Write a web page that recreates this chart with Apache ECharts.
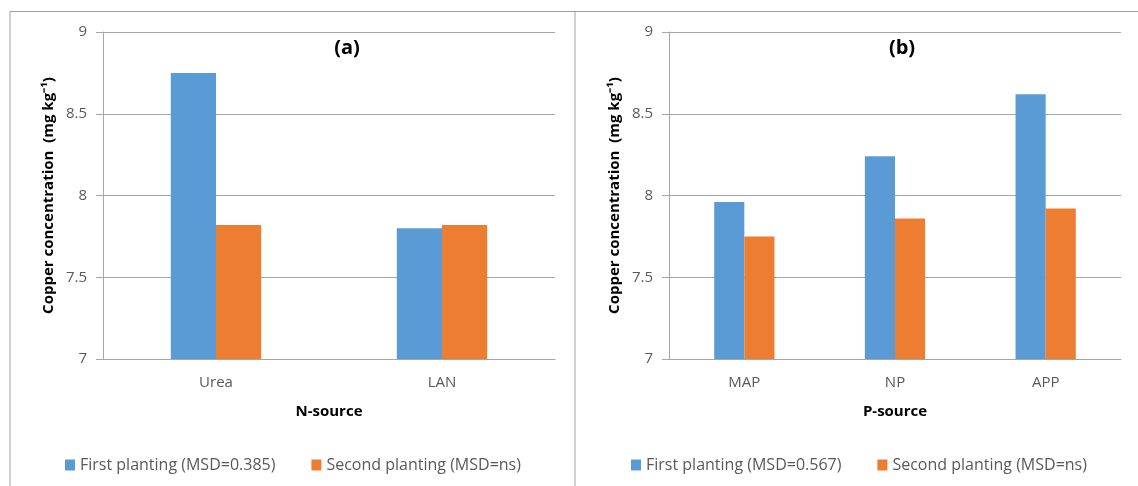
<!DOCTYPE html>
<html>
<head>
<meta charset="utf-8">
<script src="https://cdn.jsdelivr.net/npm/echarts@6/dist/echarts.min.js"></script>
<style>
html,body{margin:0;padding:0;background:#fff;}
#chart{width:1138px;height:486px;}
</style>
</head>
<body>
<div id="chart"></div>
<script>
// ---- data ----
const nCategories = ['Urea', 'LAN'];
const nFirst = [8.75, 7.80];
const nSecond = [7.82, 7.82];
const pCategories = ['MAP', 'NP', 'APP'];
const pFirst = [7.96, 8.24, 8.62];
const pSecond = [7.75, 7.86, 7.92];
const yTicks = [7, 7.5, 8, 8.5, 9];
const nFirstName = 'First planting (MSD=0.385)';
const nSecondName = 'Second planting (MSD=ns)';
const pFirstName = 'First planting (MSD=0.567)';
const pSecondName = 'Second planting (MSD=ns) ';
const yName = 'Copper concentration  (mg kg\u207B\u00B9)';

const BLUE = '#5B9BD5', ORANGE = '#ED7D31', TXT = '#595959', GRID = '#A6A6A6';
const FONT = 'Open Sans';

const chart = echarts.init(document.getElementById('chart'), null, {renderer: 'canvas'});

function yAxis(gridIndex) {
  return {
    type: 'value', gridIndex: gridIndex,
    min: yTicks[0], max: yTicks[yTicks.length - 1], interval: 0.5,
    name: yName, nameLocation: 'middle', nameGap: 47,
    nameTextStyle: {fontFamily: FONT, fontWeight: 'bold', fontSize: 15, color: '#000'},
    axisLine: {show: true, lineStyle: {color: GRID, width: 1}},
    axisTick: {show: true, length: 7, lineStyle: {color: GRID}},
    axisLabel: {fontFamily: FONT, fontSize: 15, color: TXT, margin: 16,
      formatter: v => String(v)},
    splitLine: {show: true, lineStyle: {color: GRID, width: 1}}
  };
}
function xAxis(gridIndex, cats, name) {
  return {
    type: 'category', gridIndex: gridIndex, data: cats,
    name: name, nameLocation: 'middle', nameGap: 45,
    nameTextStyle: {fontFamily: FONT, fontWeight: 'bold', fontSize: 15, color: '#000'},
    axisLine: {show: true, lineStyle: {color: GRID, width: 1}},
    axisTick: {show: false},
    axisLabel: {fontFamily: FONT, fontSize: 15, color: TXT, margin: 16}
  };
}
function legend(left, names) {
  return {
    left: left, top: 452, data: names, icon: 'rect', itemWidth: 10, itemHeight: 11,
    itemGap: 36, textStyle: {fontFamily: FONT, fontSize: 16, color: TXT}
  };
}
function bars(name, data, xi, color) {
  return {
    type: 'bar', name: name, data: data, xAxisIndex: xi, yAxisIndex: xi,
    barGap: '0%', barCategoryGap: '60%', itemStyle: {color: color},
    emphasis: {disabled: true}, animation: false
  };
}

chart.setOption({
  animation: false,
  grid: [
    {left: 103, top: 32, width: 452, height: 327},
    {left: 669, top: 32, width: 452, height: 327}
  ],
  title: [
    {text: '(a)', left: 342, top: 33, textAlign: 'center',
     textStyle: {fontFamily: FONT, fontWeight: 'bold', fontSize: 20, color: '#000'}},
    {text: '(b)', left: 897, top: 33, textAlign: 'center',
     textStyle: {fontFamily: FONT, fontWeight: 'bold', fontSize: 20, color: '#000'}}
  ],
  xAxis: [xAxis(0, nCategories, 'N-source'), xAxis(1, pCategories, 'P-source')],
  yAxis: [yAxis(0), yAxis(1)],
  legend: [legend(60, [nFirstName, nSecondName]), legend(626, [pFirstName, pSecondName])],
  series: [
    bars(nFirstName, nFirst, 0, BLUE),
    bars(nSecondName, nSecond, 0, ORANGE),
    bars(pFirstName, pFirst, 1, BLUE),
    bars(pSecondName, pSecond, 1, ORANGE)
  ],
  graphic: [
    {type: 'polyline', shape: {points: [[10, 500], [10, 11.5], [1138, 11.5]]},
     style: {stroke: '#A0A0A0', fill: null, lineWidth: 1}, silent: true},
    {type: 'line', shape: {x1: 575, y1: 11.5, x2: 575, y2: 500},
     style: {stroke: '#A0A0A0', lineWidth: 1}, silent: true}
  ]
});
</script>
</body>
</html>
